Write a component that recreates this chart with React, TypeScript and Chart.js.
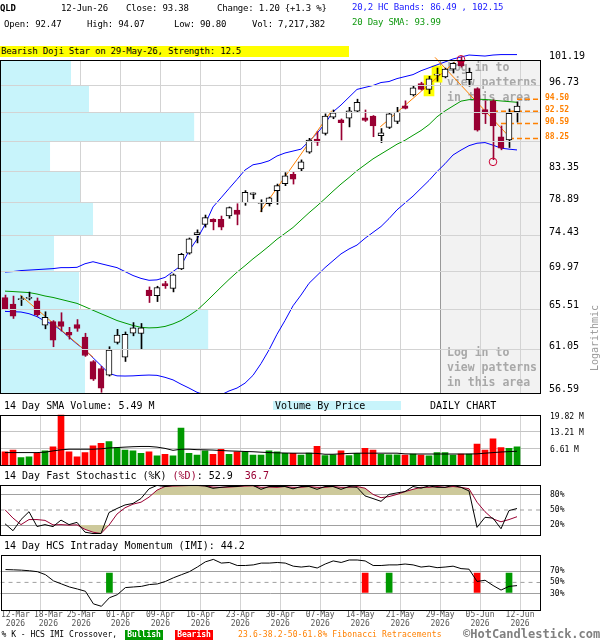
import React, { useEffect, useRef } from 'react';
import { Chart, registerables } from 'chart.js';

Chart.register(...registerables);

const FONT = '"DejaVu Sans Mono", monospace';

// ---------------- data ----------------
const tradingDays = [
  '12-Mar','13-Mar','16-Mar','17-Mar','18-Mar','19-Mar','20-Mar','23-Mar','24-Mar','25-Mar',
  '26-Mar','27-Mar','30-Mar','31-Mar','01-Apr','02-Apr','06-Apr','07-Apr','08-Apr','09-Apr',
  '10-Apr','13-Apr','14-Apr','15-Apr','16-Apr','17-Apr','20-Apr','21-Apr','22-Apr','23-Apr',
  '24-Apr','27-Apr','28-Apr','29-Apr','30-Apr','01-May','04-May','05-May','06-May','07-May',
  '08-May','11-May','12-May','13-May','14-May','15-May','18-May','19-May','20-May','21-May',
  '22-May','26-May','27-May','28-May','29-May','01-Jun','02-Jun','03-Jun','04-Jun','05-Jun',
  '08-Jun','09-Jun','10-Jun','11-Jun','12-Jun',
];
const dateTickIdx = [0, 4, 9, 14, 19, 24, 29, 34, 39, 44, 49, 54, 59, 64];
const gridIdx = [4, 9, 14, 19, 24, 29, 34, 39, 44, 49, 54, 59, 64];
const yearLabel = '2026';

const openP = [
  66.83, 66.08, 66.60, 66.75, 66.46, 63.70, 64.10, 64.10, 62.92, 63.78,
  62.38, 59.79, 59.06, 58.39, 61.82, 60.25, 62.81, 62.78, 67.72, 67.06,
  68.50, 67.92, 70.27, 72.22, 74.60, 75.96, 76.62, 76.62, 77.07, 77.86,
  78.90, 80.02, 78.77, 78.74, 80.57, 81.54, 82.89, 83.67, 86.17, 88.15,
  89.02, 91.59, 91.17, 91.43, 92.53, 91.48, 91.75, 88.67, 89.94, 90.90,
  93.43, 95.19, 97.12, 96.13, 98.55, 98.25, 99.60, 101.19, 97.79, 96.25,
  92.79, 94.23, 88.51, 88.01, 92.47,
];
const highP = [
  67.14, 67.02, 67.02, 67.49, 66.80, 65.21, 64.21, 65.10, 63.46, 64.33,
  62.81, 59.89, 59.29, 61.35, 63.24, 62.95, 63.99, 63.89, 68.10, 68.18,
  68.77, 69.67, 72.22, 74.17, 75.23, 77.20, 76.70, 77.07, 78.30, 78.74,
  80.57, 80.24, 79.29, 79.65, 81.49, 83.13, 83.23, 85.00, 88.26, 89.28,
  92.11, 92.74, 91.30, 93.17, 94.50, 92.74, 91.85, 89.78, 92.20, 93.17,
  94.23, 96.79, 97.34, 98.35, 99.77, 99.77, 100.72, 101.72, 99.77, 96.41,
  94.23, 94.39, 90.19, 92.90, 94.07,
];
const lowP = [
  65.44, 64.45, 65.92, 66.57, 64.70, 63.30, 61.35, 63.05, 62.17, 63.02,
  60.32, 57.84, 56.66, 58.29, 61.64, 59.79, 62.53, 61.11, 66.27, 66.38,
  67.92, 67.51, 70.19, 72.10, 73.54, 75.58, 75.23, 75.23, 76.76, 75.89,
  78.52, 79.42, 77.64, 78.43, 78.65, 81.26, 81.49, 83.27, 85.98, 87.16,
  88.77, 91.33, 88.01, 90.04, 92.38, 90.90, 88.51, 87.61, 89.78, 90.56,
  92.90, 95.03, 96.02, 95.42, 97.51, 98.08, 98.92, 99.94, 96.67, 89.37,
  90.56, 85.04, 86.51, 86.86, 90.80,
];
const closeP = [
  65.55, 64.70, 66.65, 66.85, 64.88, 64.59, 62.06, 63.57, 62.60, 63.35,
  60.42, 57.97, 57.08, 61.00, 62.60, 62.70, 63.42, 63.42, 67.06, 68.03,
  68.22, 69.55, 72.10, 74.05, 74.89, 76.85, 76.28, 75.58, 78.21, 77.28,
  80.34, 80.24, 78.80, 79.56, 81.26, 82.66, 82.19, 84.71, 88.01, 87.66,
  91.75, 92.27, 90.71, 92.58, 93.97, 91.06, 90.19, 89.13, 92.11, 92.38,
  93.01, 96.41, 96.13, 97.91, 98.60, 99.60, 100.62, 100.16, 99.03, 89.52,
  92.11, 90.19, 86.76, 92.18, 93.38,
];
const upperBand = [
  69.89, 69.95, 70.07, 70.13, 70.19, 70.25, 70.31, 70.43, 70.43, 70.47,
  70.91, 71.16, 70.91, 70.67, 70.43, 69.95, 69.47, 69.12, 68.89, 68.94,
  69.24, 69.95, 70.67, 72.51, 74.01, 75.93, 78.30, 79.55, 80.85, 82.15,
  83.51, 84.28, 84.50, 84.86, 85.58, 86.03, 86.32, 86.61, 87.81, 89.02,
  90.56, 92.43, 93.54, 94.83, 96.13, 96.46, 96.79, 97.29, 97.46, 97.96,
  98.30, 98.64, 99.31, 99.82, 100.34, 100.85, 101.37, 101.72, 102.07, 101.98,
  101.89, 102.07, 102.15, 102.15, 102.15,
];
const lowerBand = [
  65.25, 65.22, 65.18, 64.99, 64.66, 64.14, 63.78, 63.13, 62.38, 61.64,
  61.01, 60.18, 59.37, 58.56, 58.31, 58.29, 58.31, 58.36, 58.39, 58.36,
  58.16, 57.90, 57.47, 57.08, 56.66, 56.40, 56.20, 56.40, 56.79, 57.08,
  57.57, 58.36, 59.57, 61.01, 62.70, 64.22, 65.89, 67.14, 68.53, 69.47,
  70.43, 71.28, 72.14, 72.76, 73.26, 74.13, 74.90, 75.67, 76.72, 77.90,
  78.84, 79.79, 80.89, 82.00, 83.28, 84.43, 85.73, 86.47, 87.14, 87.51,
  87.61, 87.21, 86.76, 86.61, 86.49,
];
const sma20 = [
  67.60, 67.55, 67.49, 67.43, 67.26, 67.03, 66.86, 66.63, 66.40, 66.17,
  65.78, 65.38, 64.99, 64.61, 64.22, 63.94, 63.67, 63.46, 63.40, 63.43,
  63.56, 63.84, 64.22, 64.77, 65.38, 66.23, 67.14, 68.07, 68.99, 69.87,
  70.67, 71.52, 72.30, 73.13, 74.01, 74.77, 75.54, 76.52, 77.51, 78.44,
  79.44, 80.48, 81.49, 82.42, 83.42, 84.28, 85.15, 85.88, 86.61, 87.36,
  87.96, 88.72, 89.47, 90.40, 91.64, 92.58, 93.38, 94.18, 94.42, 94.50,
  94.45, 94.34, 94.21, 94.10, 93.99,
];
const priceTicks = [56.59, 61.05, 65.51, 69.97, 74.43, 78.89, 83.35, 87.81, 92.27, 96.73, 101.19];
const priceTickLabels = ['56.59', '61.05', '65.51', '69.97', '74.43', '78.89', '83.35', '', '', '96.73', '101.19'];
const vbpVolumeM = [31.5, 77.2, 29.3, 20.0, 34.5, 29.7, 18.6, 72.0, 33.0, 26.3];
const VBP_MAX = 200;
const fibLevels = [94.50, 92.52, 90.59, 88.25];
const fibLabels = ['94.50', '92.52', '90.59', '88.25'];
const fibStartIdx = [64, 61, 62, 63];
const trendStartIdx = [1.9, 31.9, 46.9, 53.75];
const trendStartPrice = [67.14, 77.64, 90.04, 101.66];
const trendEndIdx = [11.0, 40.85, 56.25, 63.3];
const trendEndPrice = [60.25, 92.63, 100.85, 88.15];
const highlightIdx = [53, 54];
const highlightLow = [95.04, 97.34];
const highlightHigh = [98.47, 100.16];
const markerIdx = [57, 61];
const markerPrice = [101.31, 84.71];
const loginStartIdx = 54;

const volumeM = [
  5.29, 5.95, 2.98, 3.31, 4.63, 5.62, 7.27, 21.5, 5.29, 3.31,
  4.96, 7.60, 8.60, 9.26, 6.83, 5.95, 5.62, 4.63, 5.29, 3.64,
  4.30, 3.64, 14.55, 4.63, 3.97, 5.62, 4.30, 6.28, 4.30, 5.29,
  5.29, 3.97, 3.97, 5.62, 5.29, 4.63, 4.63, 3.97, 4.74, 7.38,
  3.75, 4.08, 5.62, 3.75, 4.63, 6.61, 5.95, 4.30, 4.08, 4.08,
  3.97, 4.41, 3.97, 3.64, 4.96, 4.96, 3.97, 4.41, 4.41, 8.26,
  5.95, 10.36, 6.94, 6.61, 7.22,
];
const volumeSma14 = [
  4.96, 4.96, 4.96, 4.96, 4.96, 5.12, 5.62, 6.05, 6.28, 6.28,
  6.28, 6.28, 6.44, 6.78, 6.94, 7.11, 7.27, 7.37, 7.37, 7.11,
  6.61, 5.85, 6.28, 6.28, 6.11, 6.05, 5.95, 5.78, 5.62, 5.52,
  5.39, 5.29, 5.12, 4.96, 4.86, 4.79, 4.73, 4.73, 4.73, 4.63,
  4.30, 4.30, 4.46, 4.63, 4.73, 4.73, 4.73, 4.73, 4.73, 4.73,
  4.46, 4.40, 4.40, 4.40, 4.40, 4.40, 4.40, 4.40, 4.40, 4.46,
  4.73, 4.96, 5.19, 5.35, 5.49,
];
const volTicks = [6.61, 13.21, 19.82];
const volTickLabels = ['6.61 M', '13.21 M', '19.82 M'];

const stochK = [
  22.7, 8.9, 31, 46.6, 17.2, 21, 17, 30, 21, 25.5,
  6, 3.3, 3.3, 45, 53, 60, 63, 72.8, 92, 98.8,
  96.6, 98.8, 98.8, 98.8, 98.8, 97.8, 93, 95, 96.6, 96.6,
  98.8, 98.8, 91, 96.6, 96.6, 96.6, 92, 96.6, 96.6, 91,
  96.6, 96.6, 91, 96.6, 95, 78, 72.7, 67.2, 81, 83.9,
  86.6, 96.6, 93.3, 97.8, 95, 95, 98.8, 95, 87.8, 15.5,
  35.5, 33.9, 12.8, 48.9, 52.9,
];
const stochD = [
  50.5, 33.9, 21, 31, 31, 29.4, 20.5, 21, 20, 20.5,
  11.6, 6, 3.3, 20, 42, 54.4, 61.6, 65.5, 75.5, 89.4,
  96.6, 97.5, 98, 98.5, 98.5, 98, 95.5, 95, 95.5, 96.5,
  97.5, 98, 95, 95.5, 95, 96.6, 95, 95, 96.6, 95,
  95, 96.6, 95, 95, 96.5, 93.3, 81, 74.4, 76.6, 81,
  86.6, 91, 95, 95, 96.6, 95, 96.6, 95, 92.2, 65.5,
  46.6, 32.2, 26.6, 31, 36.7,
];
const stochTicks = [20, 50, 80];
const stochTickLabels = ['20%', '50%', '80%'];

const imi = [
  73.3, 72.8, 72.2, 71.1, 69.4, 64, 52.8, 47.2, 41.7, 38,
  33.9, 11.1, 6.7, 22.2, 27.8, 40.6, 41.7, 42.8, 46.1, 47.2,
  51.7, 58.3, 63.9, 69.4, 77.8, 87.2, 91.7, 85, 86.1, 80.6,
  80.6, 81.7, 85, 85, 86.1, 85, 79.4, 77.8, 79.4, 76.1,
  83.3, 88.9, 86.1, 90.6, 90.6, 88.9, 80.6, 80.6, 81.7, 81.7,
  83.3, 81.7, 77.8, 79.4, 76.7, 77.8, 79.4, 75, 73.9, 51.7,
  53.9, 44.4, 36.1, 42.8, 44.2,
];
const imiTicks = [30, 50, 70];
const imiTickLabels = ['30%', '50%', '70%'];
const imiCrossIdx = [13, 45, 48, 59, 63];
const imiCrossType = ['bull', 'bear', 'bull', 'bear', 'bull'];
const imiCrossLow = 31.7;
const imiCrossHigh = 66.7;
const midLevel = 50;

// ---------------- styling ----------------
const X_MIN = -0.625;
const X_MAX = 66.875;
const PLOT_W = 540;
const GRID_SHIFT = 0.375;
const GRID = '#d3d3d3';
const LEVEL = '#a0a0a0';
const KHAKI = '#cdc99b';
const GREEN = '#009900';
const RED = '#ff0000';
const MAROON = '#990033';
const ORANGE = '#ff8000';
const BLUE = '#0000ff';
const VBP = '#c8f4fb';
const NONE = 'rgba(0,0,0,0)';

const up = closeP.map((c, i) => c >= openP[i]);

// date labels: start at their grid line, pushed right so they never overlap (like the original)
function dateLabelValues() {
  const pxPerUnit = PLOT_W / (X_MAX - X_MIN);
  const labelW = 6 * 4.82;
  const gap = 4;
  let prevEnd = -Infinity;
  return dateTickIdx.map((k) => {
    const natural = (k + GRID_SHIFT - X_MIN) * pxPerUnit;
    const c = Math.max(natural, labelW / 2 + 0.5, prevEnd + gap + labelW / 2);
    prevEnd = c + labelW / 2;
    return c / pxPerUnit + X_MIN;
  });
}

const framePlugin = {
  id: 'frame',
  afterDraw(chart: any) {
    const { ctx, chartArea: a } = chart;
    ctx.save();
    ctx.strokeStyle = '#000';
    ctx.lineWidth = 1;
    ctx.strokeRect(Math.round(a.left) + 0.5, Math.round(a.top) + 0.5, Math.round(a.right - a.left), Math.round(a.bottom - a.top));
    ctx.restore();
  },
};

const loginPlugin = {
  id: 'login',
  beforeDraw(chart: any) {
    const { ctx, chartArea: a, scales } = chart;
    const x = Math.round(scales.x.getPixelForValue(loginStartIdx + GRID_SHIFT));
    ctx.save();
    ctx.fillStyle = '#f2f2f2';
    ctx.fillRect(x, a.top, a.right - x, a.bottom - a.top);
    ctx.restore();
  },
  beforeDatasetsDraw(chart: any) {
    const { ctx, chartArea: a, scales } = chart;
    const x = Math.round(scales.x.getPixelForValue(loginStartIdx + GRID_SHIFT));
    ctx.save();
    ctx.strokeStyle = '#999';
    ctx.lineWidth = 1;
    ctx.beginPath();
    ctx.moveTo(x + 0.5, a.top);
    ctx.lineTo(x + 0.5, a.bottom);
    ctx.stroke();
    ctx.fillStyle = '#a8a8a8';
    ctx.font = `bold 11.5px ${FONT}`;
    ctx.textBaseline = 'alphabetic';
    const lines = ['Log in to', 'view patterns', 'in this area'];
    lines.forEach((t, i) => {
      ctx.fillText(t, x + 7, a.top + 11 + 15 * i);
      ctx.fillText(t, x + 7, a.bottom - 37 + 15 * i);
    });
    ctx.restore();
  },
};

const fibPlugin = {
  id: 'fibLabels',
  afterDraw(chart: any) {
    const { ctx, chartArea: a, scales } = chart;
    ctx.save();
    ctx.fillStyle = ORANGE;
    ctx.font = `bold 8px ${FONT}`;
    ctx.textBaseline = 'middle';
    ctx.textAlign = 'left';
    fibLevels.forEach((lv, i) => {
      ctx.fillText(fibLabels[i], a.right + 5, scales.y.getPixelForValue(lv) - 1);
    });
    ctx.restore();
  },
};

function baseOptions(padding: any) {
  return {
    responsive: false,
    animation: false,
    events: [],
    layout: { padding, autoPadding: false },
    plugins: { legend: { display: false }, tooltip: { enabled: false } },
  };
}

function xAxis(extra: any = {}) {
  return {
    type: 'linear',
    min: X_MIN,
    max: X_MAX,
    offset: false,
    bounds: 'data',
    weight: 0,
    grid: { color: GRID, drawTicks: false, offset: false },
    border: { display: false },
    ticks: { display: false },
    afterBuildTicks: (s: any) => {
      s.ticks = gridIdx.map((k) => ({ value: k + GRID_SHIFT }));
    },
    afterFit: (s: any) => {
      s.height = 0;
    },
    ...extra,
  };
}

function hiddenX(shift: number, min = X_MIN, max = X_MAX) {
  return { type: 'linear', display: false, offset: false, bounds: 'data', min: min - shift, max: max - shift, grid: { offset: false } };
}

function yAxis(o: any) {
  return {
    type: o.type || 'linear',
    position: 'right',
    min: o.min,
    max: o.max,
    bounds: 'data',
    afterBuildTicks: (s: any) => {
      s.ticks = o.ticks.map((v: number) => ({ value: v }));
    },
    afterFit: (s: any) => {
      s.width = 60;
    },
    ticks: {
      autoSkip: false,
      callback: (_v: any, i: number) => o.labels[i],
      font: { family: FONT, size: o.fontSize },
      color: '#000',
      padding: o.padding,
      labelOffset: o.labelOffset,
    },
    grid: { color: o.gridColor, drawTicks: false, z: o.z || -1 },
    border: { display: false },
  };
}

const lineDs = (data: any[], color: string, extra: any = {}) => ({
  type: 'line',
  data,
  borderColor: color,
  borderWidth: 1,
  pointRadius: 0,
  tension: 0,
  ...extra,
});

function priceConfig() {
  const clipTop = { left: 0, top: 10, right: 0, bottom: 0 };
  const datasets: any[] = [
    {
      type: 'scatter',
      data: markerIdx.map((k, i) => ({ x: k, y: markerPrice[i] })),
      pointStyle: 'circle',
      pointRadius: 3.8,
      borderColor: '#cc0033',
      backgroundColor: NONE,
      borderWidth: 1,
      order: 0,
      clip: false,
    },
    {
      type: 'bar',
      data: openP.map((o, k) => ({ x: k, y: [o, closeP[k]] })),
      backgroundColor: up.map((u) => (u ? '#ffffff' : MAROON)),
      borderColor: up.map((u) => (u ? '#000000' : MAROON)),
      borderWidth: 1,
      borderSkipped: false,
      barThickness: 6,
      minBarLength: 1,
      grouped: false,
      order: 1,
      clip: clipTop,
    },
    {
      type: 'bar',
      xAxisID: 'xw',
      data: lowP.map((l, k) => ({ x: k, y: [l, highP[k]] })),
      backgroundColor: up.map((u) => (u ? '#000000' : MAROON)),
      borderWidth: 0,
      barThickness: 1,
      grouped: false,
      order: 2,
      clip: clipTop,
    },
    ...trendStartIdx.map((x0, i) =>
      lineDs(
        [
          { x: x0, y: trendStartPrice[i] },
          { x: trendEndIdx[i], y: trendEndPrice[i] },
        ],
        ORANGE,
        { order: 3, clip: clipTop }
      )
    ),
    ...fibLevels.map((lv, i) =>
      lineDs(
        [
          { x: fibStartIdx[i], y: lv },
          { x: X_MAX, y: lv },
        ],
        ORANGE,
        { order: 3, borderWidth: 1.5, borderDash: [5, 3] }
      )
    ),
    lineDs(upperBand.map((v, k) => ({ x: k, y: v })), BLUE, { order: 4, clip: clipTop }),
    lineDs(lowerBand.map((v, k) => ({ x: k, y: v })), BLUE, { order: 4, clip: clipTop }),
    lineDs(sma20.map((v, k) => ({ x: k, y: v })), GREEN, { order: 4, clip: clipTop }),
    {
      type: 'bar',
      data: highlightIdx.map((k, i) => ({ x: k, y: [highlightLow[i], highlightHigh[i]] })),
      backgroundColor: '#ffff00',
      borderWidth: 0,
      barThickness: 10,
      grouped: false,
      order: 6,
    },
    ...vbpVolumeM.map((v, i) =>
      lineDs(
        [
          { x: 0, y: priceTicks[i + 1] },
          { x: v, y: priceTicks[i + 1] },
        ],
        NONE,
        { xAxisID: 'xv', borderWidth: 0, fill: { value: priceTicks[i] }, backgroundColor: VBP, order: 10 }
      )
    ),
  ];
  return {
    type: 'line',
    data: { datasets },
    options: {
      ...baseOptions({ top: 60, left: 0, right: 0, bottom: 8 }),
      scales: {
        x: xAxis(),
        xw: hiddenX(0.0625),
        xv: { type: 'linear', display: false, offset: false, bounds: 'data', min: 0, max: VBP_MAX, grid: { offset: false } },
        y: yAxis({
          type: 'logarithmic',
          min: priceTicks[0],
          max: priceTicks[priceTicks.length - 1],
          ticks: priceTicks,
          labels: priceTickLabels,
          fontSize: 10,
          padding: 9,
          labelOffset: -3.6,
          gridColor: GRID,
          z: 1,
        }),
      },
    },
    plugins: [loginPlugin, fibPlugin, framePlugin],
  };
}

function volumeConfig() {
  return {
    type: 'line',
    data: {
      datasets: [
        lineDs(volumeSma14.map((v, k) => ({ x: k, y: v })), '#000', { order: 0 }),
        {
          type: 'bar',
          data: volumeM.map((v, k) => ({ x: k, y: v })),
          backgroundColor: up.map((u) => (u ? GREEN : RED)),
          borderWidth: 0,
          barThickness: 6,
          grouped: false,
          order: 1,
        },
      ],
    },
    options: {
      ...baseOptions({ top: 10, left: 0, right: 0, bottom: 10 }),
      scales: {
        x: xAxis(),
        y: yAxis({
          min: 0,
          max: volTicks[volTicks.length - 1],
          ticks: volTicks,
          labels: volTickLabels,
          fontSize: 8,
          padding: 10,
          labelOffset: 1.7,
          gridColor: (c: any) => (c.tick && c.tick.value >= volTicks[volTicks.length - 1] ? NONE : '#c4c4c4'),
        }),
      },
    },
    plugins: [framePlugin],
  };
}

function stochConfig() {
  const pts = (arr: number[]) => arr.map((v, k) => ({ x: k, y: v }));
  return {
    type: 'line',
    data: {
      datasets: [
        lineDs(pts(stochK), '#000', { order: 1 }),
        lineDs(pts(stochD), MAROON, { order: 2, fill: { target: { value: stochTicks[2] }, above: KHAKI, below: NONE } }),
        lineDs(pts(stochD), NONE, { order: 3, borderWidth: 0, fill: { target: { value: stochTicks[0] }, above: NONE, below: KHAKI } }),
        lineDs(
          [
            { x: X_MIN, y: midLevel },
            { x: X_MAX, y: midLevel },
          ],
          LEVEL,
          { order: 4, borderDash: [4, 4] }
        ),
      ],
    },
    options: {
      ...baseOptions({ top: 10, left: 0, right: 0, bottom: 10 }),
      scales: {
        x: xAxis(),
        y: yAxis({
          min: 0,
          max: 100,
          ticks: stochTicks,
          labels: stochTickLabels,
          fontSize: 8,
          padding: 10,
          labelOffset: 0,
          gridColor: (c: any) => (c.tick && c.tick.value === midLevel ? NONE : LEVEL),
        }),
      },
    },
    plugins: [framePlugin],
  };
}

function imiConfig() {
  const labelValues = dateLabelValues();
  const labels = dateTickIdx.map((k) => [tradingDays[k], yearLabel]);
  return {
    type: 'line',
    data: {
      datasets: [
        lineDs(imi.map((v, k) => ({ x: k, y: v })), '#000', { order: 1 }),
        {
          type: 'bar',
          data: imiCrossIdx.map((k) => ({ x: k, y: [imiCrossLow, imiCrossHigh] })),
          backgroundColor: imiCrossType.map((t) => (t === 'bull' ? GREEN : RED)),
          borderWidth: 0,
          barThickness: 6,
          grouped: false,
          order: 2,
        },
        lineDs(
          [
            { x: X_MIN, y: midLevel },
            { x: X_MAX, y: midLevel },
          ],
          LEVEL,
          { order: 3, borderDash: [4, 4] }
        ),
      ],
    },
    options: {
      ...baseOptions({ top: 10, left: 0, right: 0, bottom: 10 }),
      scales: {
        x: xAxis(),
        xl: {
          type: 'linear',
          position: 'bottom',
          min: X_MIN,
          max: X_MAX,
          offset: false,
          bounds: 'data',
          weight: 1,
          grid: { display: false, drawTicks: false, offset: false },
          border: { display: false },
          ticks: {
            display: true,
            autoSkip: false,
            maxRotation: 0,
            minRotation: 0,
            padding: 1,
            color: '#555',
            font: { family: FONT, size: 8, lineHeight: 1.05 },
            callback: (_v: any, i: number) => labels[i],
          },
          afterBuildTicks: (s: any) => {
            s.ticks = labelValues.map((v) => ({ value: v }));
          },
          afterFit: (s: any) => {
            s.height = 20;
          },
        },
        y: yAxis({
          min: 0,
          max: 100,
          ticks: imiTicks,
          labels: imiTickLabels,
          fontSize: 8,
          padding: 10,
          labelOffset: 0,
          gridColor: (c: any) => (c.tick && c.tick.value === midLevel ? NONE : LEVEL),
        }),
      },
    },
    plugins: [framePlugin],
  };
}

function T({ x, y, s = 10, c = '#000', b = false, ls = 0, children }: any) {
  return (
    <div
      style={{
        position: 'absolute',
        left: x,
        top: y - 0.846 * s,
        fontSize: s,
        lineHeight: `${s}px`,
        fontFamily: FONT,
        color: c,
        fontWeight: b ? 'bold' : 'normal',
        letterSpacing: ls,
        whiteSpace: 'pre',
        zIndex: 3,
      }}
    >
      {children}
    </div>
  );
}

export default function App() {
  const pRef = useRef<HTMLCanvasElement>(null);
  const vRef = useRef<HTMLCanvasElement>(null);
  const sRef = useRef<HTMLCanvasElement>(null);
  const iRef = useRef<HTMLCanvasElement>(null);

  useEffect(() => {
    const charts = [
      new Chart(pRef.current as any, priceConfig() as any),
      new Chart(vRef.current as any, volumeConfig() as any),
      new Chart(sRef.current as any, stochConfig() as any),
      new Chart(iRef.current as any, imiConfig() as any),
    ];
    return () => charts.forEach((c) => c.destroy());
  }, []);

  const hs = 9;
  const hl = -0.2;
  const cv = (top: number) => ({ position: 'absolute' as const, left: 0, top });

  return (
    <div style={{ position: 'fixed', left: 0, top: 0, width: 600, height: 640, background: '#fff', overflow: 'hidden' }}>
      <canvas ref={pRef} width={600} height={408} style={cv(0)} />
      <canvas ref={vRef} width={600} height={80} style={cv(400)} />
      <canvas ref={sRef} width={600} height={80} style={cv(470)} />
      <canvas ref={iRef} width={600} height={100} style={cv(540)} />

      {/* header */}
      <T x={0} y={12} s={hs} ls={hl} b>QLD</T>
      <T x={61} y={12} s={hs} ls={hl}>12-Jun-26</T>
      <T x={126} y={12} s={hs} ls={hl}>Close: 93.38</T>
      <T x={217} y={12} s={hs} ls={hl}>Change: 1.20 {'{'}+1.3 %{'}'}</T>
      <T x={352} y={10.7} s={hs} ls={hl} c="#1a1aff">20,2 HC Bands: 86.49 , 102.15</T>
      <T x={4} y={27.5} s={hs} ls={hl}>Open: 92.47</T>
      <T x={87} y={27.5} s={hs} ls={hl}>High: 94.07</T>
      <T x={174} y={27.5} s={hs} ls={hl}>Low: 90.80</T>
      <T x={252} y={27.5} s={hs} ls={hl}>Vol: 7,217,382</T>
      <T x={352} y={25.7} s={hs} ls={hl} c="#109910">20 Day SMA: 93.99</T>

      <div style={{ position: 'absolute', left: 0, top: 45.5, width: 349, height: 11.5, background: '#ffff00', zIndex: 2 }} />
      <T x={1} y={55} s={hs} ls={hl}>Bearish Doji Star on 29-May-26, Strength: 12.5</T>

      {/* right side label */}
      <div
        style={{
          position: 'absolute',
          left: 555,
          top: 332,
          width: 80,
          height: 12,
          textAlign: 'center',
          fontSize: 10,
          lineHeight: '12px',
          fontFamily: FONT,
          color: '#999',
          transform: 'rotate(-90deg)',
          zIndex: 3,
        }}
      >
        Logarithmic
      </div>

      {/* panel captions */}
      <T x={4} y={409.3}>14 Day SMA Volume: 5.49 M</T>
      <div style={{ position: 'absolute', left: 273, top: 400.5, width: 128, height: 9.5, background: VBP, zIndex: 2 }} />
      <T x={275} y={409.3}>Volume By Price</T>
      <T x={430} y={409.3}>DAILY CHART</T>

      <div
        style={{
          position: 'absolute',
          left: 4,
          top: 479.3 - 8.46,
          fontSize: 10,
          lineHeight: '10px',
          fontFamily: FONT,
          whiteSpace: 'pre',
          zIndex: 3,
          color: '#000',
        }}
      >
        <span>14 Day Fast Stochastic (%K) </span>
        <span style={{ color: MAROON }}>(%D)</span>
        <span>: 52.9  </span>
        <span style={{ color: MAROON }}>36.7</span>
      </div>

      <T x={4} y={549}>14 Day HCS Intraday Momentum (IMI): 44.2</T>

      {/* legend */}
      <T x={1.5} y={637.5} s={8}>% K - HCS IMI Crossover,</T>
      <div
        style={{
          position: 'absolute', left: 125, top: 630, width: 38, height: 9.5, background: GREEN, color: '#fff',
          fontFamily: FONT, fontSize: 8, fontWeight: 'bold', lineHeight: '9.5px', textAlign: 'center', zIndex: 3,
        }}
      >
        Bullish
      </div>
      <div
        style={{
          position: 'absolute', left: 175, top: 630, width: 38, height: 9.5, background: RED, color: '#fff',
          fontFamily: FONT, fontSize: 8, fontWeight: 'bold', lineHeight: '9.5px', textAlign: 'center', zIndex: 3,
        }}
      >
        Bearish
      </div>
      <T x={238} y={637.5} s={8} ls={0.15} c={ORANGE}>23.6-38.2-50-61.8% Fibonacci Retracements</T>
      <T x={463} y={638.5} s={12} b c="#808080">©HotCandlestick.com</T>
    </div>
  );
}
